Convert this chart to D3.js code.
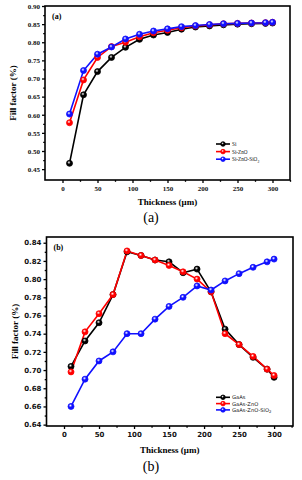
<!DOCTYPE html>
<html><head><meta charset="utf-8">
<script src="https://cdn.jsdelivr.net/npm/d3@7"></script>
<style>body{margin:0;background:#fff}svg{display:block}</style>
</head><body>
<svg id="c" width="302" height="480"></svg>
<script>
// ---- data ----
const thicknessA = [10,30,50,70,90,110,130,150,170,190,210,230,250,270,290,300];
const siA        = [0.466,0.655,0.719,0.758,0.786,0.808,0.820,0.827,0.836,0.842,0.845,0.848,0.850,0.851,0.852,0.853];
const siZnOA     = [0.578,0.696,0.758,0.788,0.800,0.815,0.826,0.833,0.840,0.845,0.848,0.851,0.852,0.853,0.854,0.855];
const siZnOSiO2A = [0.602,0.722,0.767,0.787,0.809,0.822,0.831,0.837,0.843,0.846,0.849,0.851,0.852,0.853,0.854,0.855];
const yTicksA = [0.45,0.50,0.55,0.60,0.65,0.70,0.75,0.80,0.85,0.90];

const thicknessB  = [10,30,50,70,90,110,130,150,170,190,210,230,250,270,290,300];
const gaAsB       = [0.704,0.732,0.752,0.783,0.830,0.826,0.821,0.819,0.807,0.811,0.786,0.745,0.728,0.714,0.701,0.692];
const gaAsZnOB    = [0.698,0.742,0.762,0.783,0.831,0.826,0.821,0.815,0.808,0.800,0.786,0.740,0.728,0.715,0.701,0.694];
const gaAsZnOSiB  = [0.660,0.690,0.710,0.720,0.740,0.740,0.756,0.770,0.780,0.7925,0.788,0.798,0.806,0.813,0.819,0.822];
const yTicksB = [0.64,0.66,0.68,0.70,0.72,0.74,0.76,0.78,0.80,0.82,0.84];
const xTicks = [0,50,100,150,200,250,300];

const colors = ["#000000","#ff0000","#1010ff"];
const svg = d3.select("#c");
const defs = svg.append("defs");
colors.forEach((c,i)=>{
  const g = defs.append("radialGradient").attr("id","g"+i).attr("cx","40%").attr("cy","35%").attr("r","65%");
  g.append("stop").attr("offset","0%").attr("stop-color","#fff");
  g.append("stop").attr("offset","45%").attr("stop-color",c);
  g.append("stop").attr("offset","100%").attr("stop-color",c);
});
const serif = "'Liberation Serif','Times New Roman',serif";

function panel(o){
  const x = d3.scaleLinear().domain(o.xd).range([o.l,o.r]);
  const y = d3.scaleLinear().domain(o.yd).range([o.b,o.t]);
  const g = svg.append("g");
  // series
  o.series.forEach((s,i)=>{
    const pts = o.xs.map((v,j)=>[v,s.v[j]]);
    g.append("path").datum(pts).attr("fill","none").attr("stroke",colors[i]).attr("stroke-width",1.6)
      .attr("d",d3.line().x(d=>x(d[0])).y(d=>y(d[1])));
  });
  o.series.forEach((s,i)=>{
    g.selectAll(null).data(o.xs.map((v,j)=>[v,s.v[j]])).enter().append("circle")
      .attr("cx",d=>x(d[0])).attr("cy",d=>y(d[1])).attr("r",3)
      .attr("fill","url(#g"+i+")").attr("stroke",colors[i]).attr("stroke-width",0.8);
  });
  // frame
  g.append("rect").attr("x",o.l).attr("y",o.t).attr("width",o.r-o.l).attr("height",o.b-o.t)
    .attr("fill","none").attr("stroke","#000").attr("stroke-width",1.6);
  // y axis
  const ya = g.append("g").attr("transform",`translate(${o.l},0)`)
    .call(d3.axisLeft(y).tickValues(o.yt).tickFormat(d3.format(".2f")).tickSize(3).tickPadding(2));
  const yMinor = d3.pairs(o.yt).map(p=>(p[0]+p[1])/2);
  g.append("g").attr("transform",`translate(${o.l},0)`)
    .call(d3.axisLeft(y).tickValues(yMinor).tickFormat("").tickSize(1.8));
  const xa = g.append("g").attr("transform",`translate(0,${o.b})`)
    .call(d3.axisBottom(x).tickValues(xTicks).tickSize(3).tickPadding(3));
  g.append("g").attr("transform",`translate(0,${o.b})`)
    .call(d3.axisBottom(x).tickValues(d3.pairs(xTicks.concat([350])).map(p=>(p[0]+p[1])/2)).tickFormat("").tickSize(1.8));
  g.selectAll(".domain").remove();
  g.selectAll(".tick line").attr("stroke","#000").attr("stroke-width",1.3);
  g.selectAll(".tick text").attr("font-family",o.tickFont).attr("font-weight","bold").attr("font-size",o.tickSize).attr("fill","#111");
  // panel label
  g.append("text").attr("x",o.l+7).attr("y",o.t+13).text(o.label)
    .attr("font-family",serif).attr("font-weight","bold").attr("font-size",8);
  // axis titles
  g.append("text").attr("transform",`translate(${o.l-29},${(o.t+o.b)/2}) rotate(-90)`).attr("text-anchor","middle")
    .text("Fill factor (%)").attr("font-family",serif).attr("font-weight","bold").attr("font-size",9);
  g.append("text").attr("x",(o.l+o.r)/2).attr("y",o.xtY).attr("text-anchor","middle")
    .text("Thickness (μm)").attr("font-family",serif).attr("font-weight","bold").attr("font-size",9);
  // caption
  g.append("text").attr("x",151).attr("y",o.capY).attr("text-anchor","middle")
    .text(o.caption).attr("font-family",serif).attr("font-size",14);
  // legend
  o.series.forEach((s,i)=>{
    const ly = o.legY + i*o.legDy;
    g.append("line").attr("x1",o.legX).attr("x2",o.legX+14).attr("y1",ly).attr("y2",ly).attr("stroke",colors[i]).attr("stroke-width",1.6);
    g.append("circle").attr("cx",o.legX+7).attr("cy",ly).attr("r",2.3).attr("fill","url(#g"+i+")").attr("stroke",colors[i]).attr("stroke-width",0.8);
    const t = g.append("text").attr("x",o.legX+16).attr("y",ly+2).attr("font-family",o.legFont).attr("font-size",5.2).attr("fill","#111");
    t.append("tspan").text(s.name);
    if(s.sub){ t.append("tspan").text(s.sub).attr("font-size",3.8).attr("dy",1.5); }
  });
}

panel({xd:[-25,325], yd:[0.42,0.90], l:45, r:290, t:6, b:180, xs:thicknessA, yt:yTicksA,
  series:[{name:"Si",v:siA},{name:"Si-ZnO",v:siZnOA},{name:"Si-ZnO-SiO",sub:"2",v:siZnOSiO2A}],
  label:"(a)", xtY:205, capY:222, caption:"(a)", legX:216, legY:144, legDy:7.6,
  tickFont:serif, tickSize:7, legFont:serif});

panel({xd:[-25,327], yd:[0.6385,0.8463], l:46.5, r:293, t:237, b:426, xs:thicknessB, yt:yTicksB,
  series:[{name:"GaAs",v:gaAsB},{name:"GaAs-ZnO",v:gaAsZnOB},{name:"GaAs-ZnO-SiO",sub:"2",v:gaAsZnOSiB}],
  label:"(b)", xtY:453, capY:471, caption:"(b)", legX:216, legY:397.3, legDy:6.3,
  tickFont:"'DejaVu Sans',Arial,sans-serif", tickSize:7, legFont:"'DejaVu Sans',Arial,sans-serif"});
</script>
</body></html>
